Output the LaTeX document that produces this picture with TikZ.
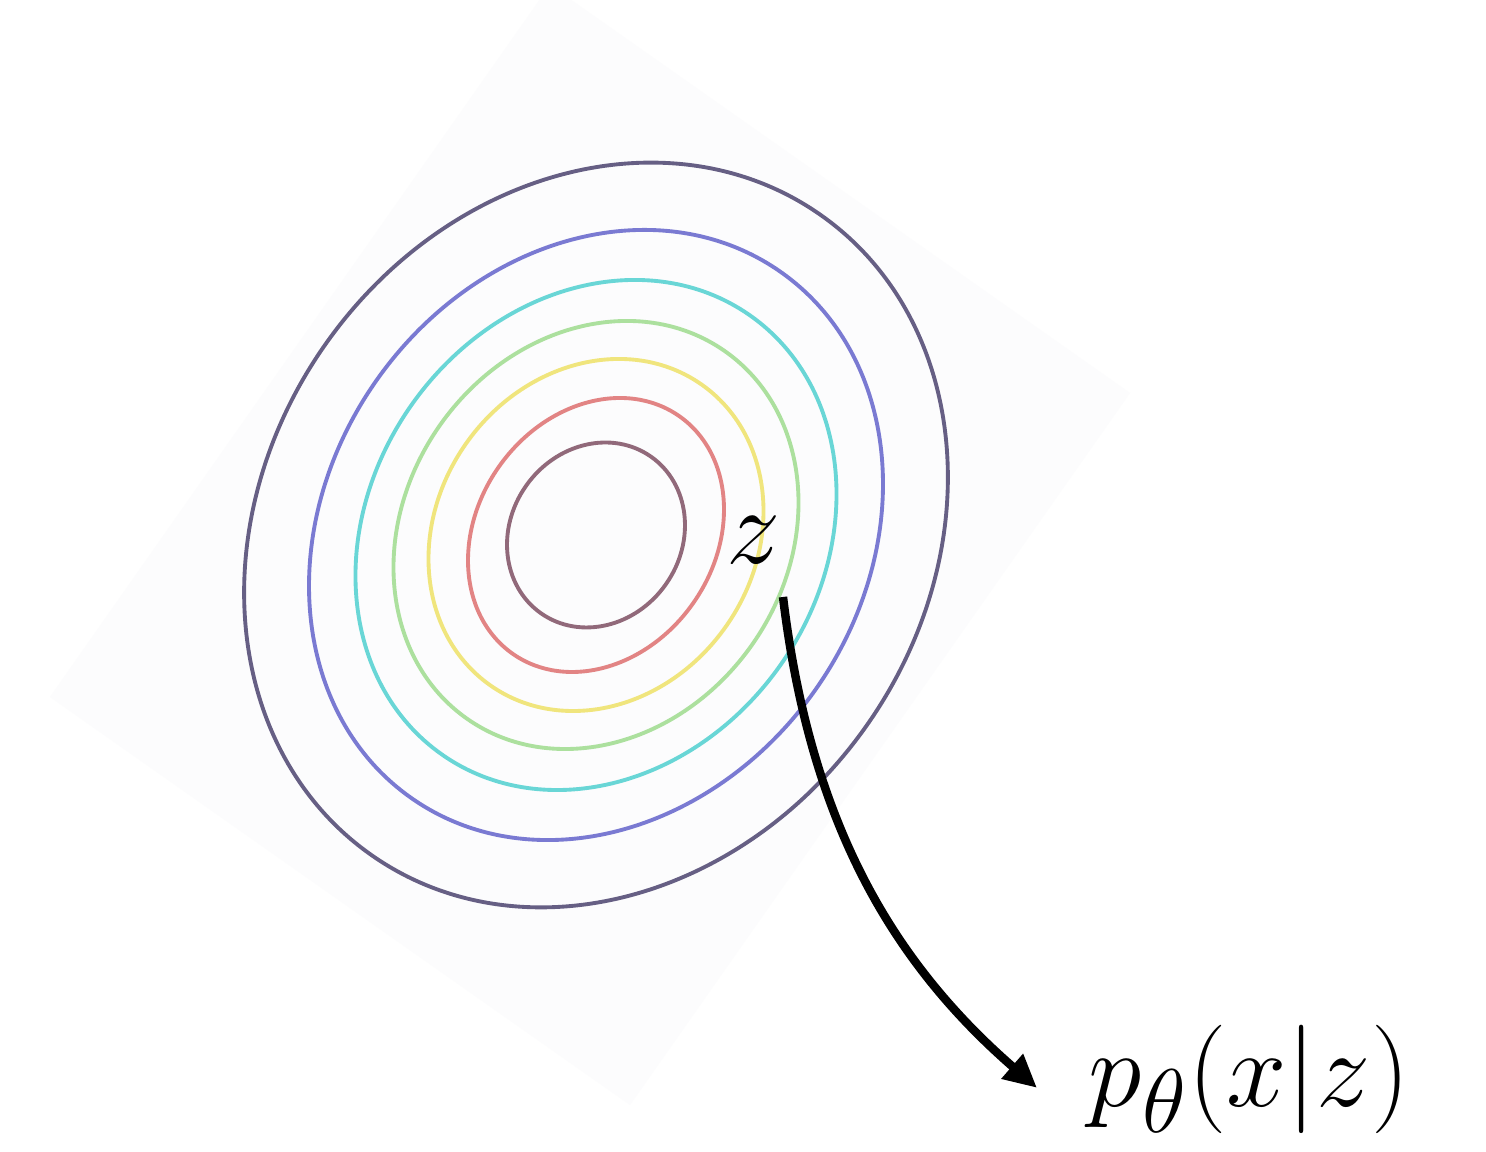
\documentclass[tikz,border=0pt]{standalone}
\usetikzlibrary{arrows.meta}
\definecolor{panel}{RGB}{252,252,253}
\definecolor{cdark}{RGB}{102,95,132}
\definecolor{cblue}{RGB}{122,122,210}
\definecolor{ccyan}{RGB}{105,214,214}
\definecolor{cgreen}{RGB}{172,224,158}
\definecolor{cyellow}{RGB}{240,229,125}
\definecolor{cred}{RGB}{226,132,132}
\definecolor{cbrown}{RGB}{145,105,122}
\tikzset{
  contour/.style={line width=1.1pt, rotate around={55:(ctr)}},
  lbl/.style={inner sep=0pt, font=\Huge, scale=1.24},
  conn/.style={line width=2.4pt, -{Triangle[length=0.33cm,width=0.31cm]}}
}
\begin{document}
\begin{tikzpicture}
\clip (0,0) rectangle (14.86,11.52);
\fill[white] (0,0) rectangle (14.86,11.52);
% faint rotated panel
\fill[panel] (0.50,4.55) -- (6.30,0.47) -- (11.30,7.59) -- (5.50,11.67) -- cycle;
\coordinate (ctr) at (5.96,6.17);
% contours
\draw[contour, cdark]   (ctr) ellipse [x radius=3.91cm, y radius=3.31cm];
\draw[contour, cblue]   (ctr) ellipse [x radius=3.214cm, y radius=2.685cm];
\draw[contour, ccyan]   (ctr) ellipse [x radius=2.682cm, y radius=2.257cm];
\draw[contour, cgreen]  (ctr) ellipse [x radius=2.245cm, y radius=1.908cm];
\draw[contour, cyellow] (ctr) ellipse [x radius=1.838cm, y radius=1.589cm];
\draw[contour, cred]    (ctr) ellipse [x radius=1.451cm, y radius=1.187cm];
\draw[contour, cbrown]  (ctr) ellipse [x radius=0.957cm, y radius=0.855cm];
% labels
\node[lbl] (z) at (7.54,6.12) {$z$};
\node[lbl, anchor=base west] (p) at (10.88,0.45) {$p_\theta(x|z)$};
\coordinate (zs) at (7.83,5.55);
\draw[conn] (zs) .. controls (8.10,3.32) and (8.90,1.92) .. ([xshift=-0.51cm,yshift=-0.08cm]p.west);
\end{tikzpicture}
\end{document}
